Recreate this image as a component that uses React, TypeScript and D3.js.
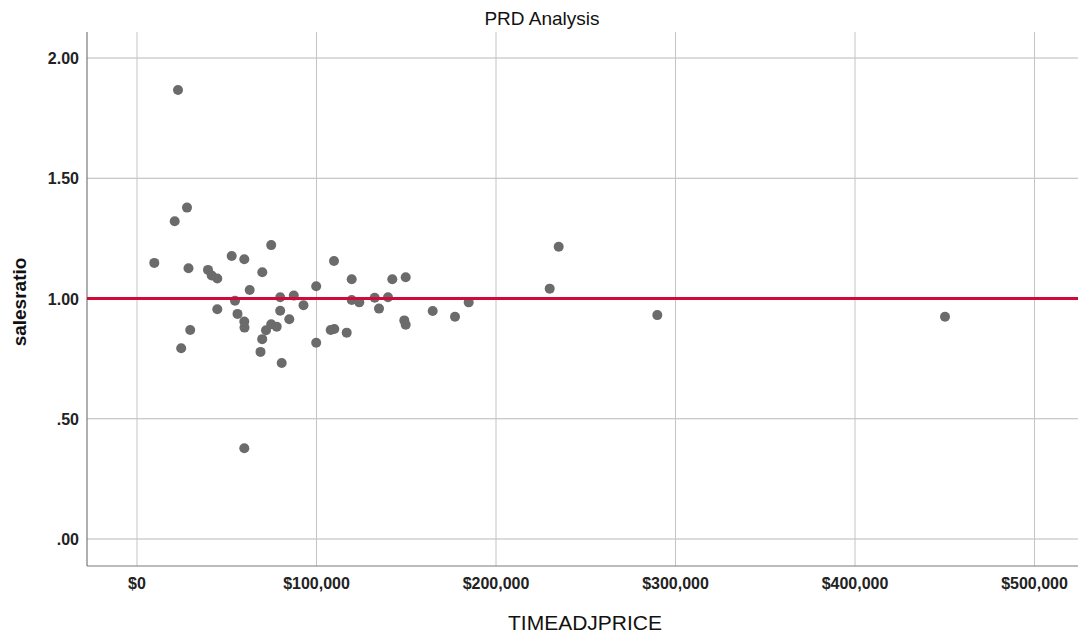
import React from "react";
import * as d3 from "d3";

const timeAdjPrice: number[] = [
  22841, 21003, 27855, 9638, 28691, 39554, 41616, 44735, 52758, 59777,
  74763, 69805, 62786, 54596, 44735, 29638, 24624, 55989, 59777, 59889,
  69749, 68802, 80613, 71866, 74763, 77827, 79777, 84847, 79777, 87354,
  92758, 99833, 99833, 109749, 119610, 119610, 123844, 132423, 134819, 139833,
  142228, 149694, 148914, 149694, 107911, 109916, 116825, 164735, 177159, 184791,
  229916, 234930, 289861, 450139, 59777,
];
const salesRatio: number[] = [
  1.867, 1.321, 1.378, 1.148, 1.126, 1.119, 1.096, 1.083, 1.177, 1.163,
  1.222, 1.109, 1.035, 0.991, 0.955, 0.869, 0.793, 0.936, 0.904, 0.879,
  0.831, 0.778, 0.732, 0.868, 0.893, 0.883, 0.949, 0.914, 1.005, 1.012,
  0.972, 1.051, 0.816, 1.156, 1.08, 0.994, 0.984, 1.003, 0.958, 1.005,
  1.08, 1.088, 0.909, 0.891, 0.869, 0.873, 0.858, 0.948, 0.924, 0.984,
  1.041, 1.215, 0.931, 0.924, 0.377,
];
const xTicks: number[] = [0, 100000, 200000, 300000, 400000, 500000];
const yTicks: number[] = [0, 0.5, 1, 1.5, 2];
const referenceRatio = 1.0;

const W = 1078;
const H = 636;
const left = 87;
const right = 1078;
const top = 32;
const bottom = 566;

const FONT = "Arial, 'Liberation Sans', Helvetica, sans-serif";

const fmtX = (v: number) => "$" + d3.format(",")(v);
const fmtY = (v: number) => {
  const s = v.toFixed(2);
  return s.startsWith("0") ? s.slice(1) : s;
};

export default function App() {
  const x = d3.scaleLinear().domain([0, 500000]).range([137, 1034.5]);
  const y = d3.scaleLinear().domain([0, 2]).range([539, 58]);
  const pts = timeAdjPrice.map((v, i) => ({ x: v, y: salesRatio[i] }));

  return (
    <svg
      width={W}
      height={H}
      style={{ position: "absolute", left: 0, top: 0, background: "#fff" }}
      fontFamily={FONT}
    >
      <rect x={0} y={0} width={W} height={H} fill="#fff" />
      {/* grid */}
      {yTicks.map((t) => (
        <line key={"gy" + t} x1={left} x2={right} y1={y(t)} y2={y(t)} stroke="#b8b8b8" strokeWidth={1} />
      ))}
      {xTicks.map((t) => (
        <line key={"gx" + t} x1={x(t)} x2={x(t)} y1={top} y2={bottom} stroke="#c4c4c4" strokeWidth={1} />
      ))}
      {/* axes */}
      <line x1={left} x2={left} y1={top} y2={bottom} stroke="#7a7a7a" strokeWidth={1.2} />
      <line x1={left} x2={right} y1={bottom} y2={bottom} stroke="#7a7a7a" strokeWidth={1.2} />
      {/* points */}
      {pts.map((p, i) => (
        <circle key={i} cx={x(p.x)} cy={y(p.y)} r={5} fill="#6b6b6b" />
      ))}
      {/* reference line */}
      <line
        x1={left}
        x2={right}
        y1={y(referenceRatio)}
        y2={y(referenceRatio)}
        stroke="#d20a3c"
        strokeWidth={3}
      />
      {/* tick labels */}
      {yTicks.map((t) => (
        <text
          key={"ty" + t}
          x={79}
          y={y(t) + 6}
          textAnchor="end"
          fontSize={16}
          fontWeight="bold"
          fill="#222"
        >
          {fmtY(t)}
        </text>
      ))}
      {xTicks.map((t) => (
        <text
          key={"tx" + t}
          x={x(t)}
          y={589}
          textAnchor="middle"
          fontSize={16}
          fontWeight="bold"
          fill="#222"
        >
          {fmtX(t)}
        </text>
      ))}
      {/* titles */}
      <text x={542} y={25} textAnchor="middle" fontSize={19} fill="#111">
        PRD Analysis
      </text>
      <text x={585} y={630} textAnchor="middle" fontSize={21} fill="#111">
        TIMEADJPRICE
      </text>
      <text
        transform={`translate(26, 302) rotate(-90)`}
        textAnchor="middle"
        fontSize={19}
        fontWeight="bold"
        fill="#111"
      >
        salesratio
      </text>
    </svg>
  );
}
